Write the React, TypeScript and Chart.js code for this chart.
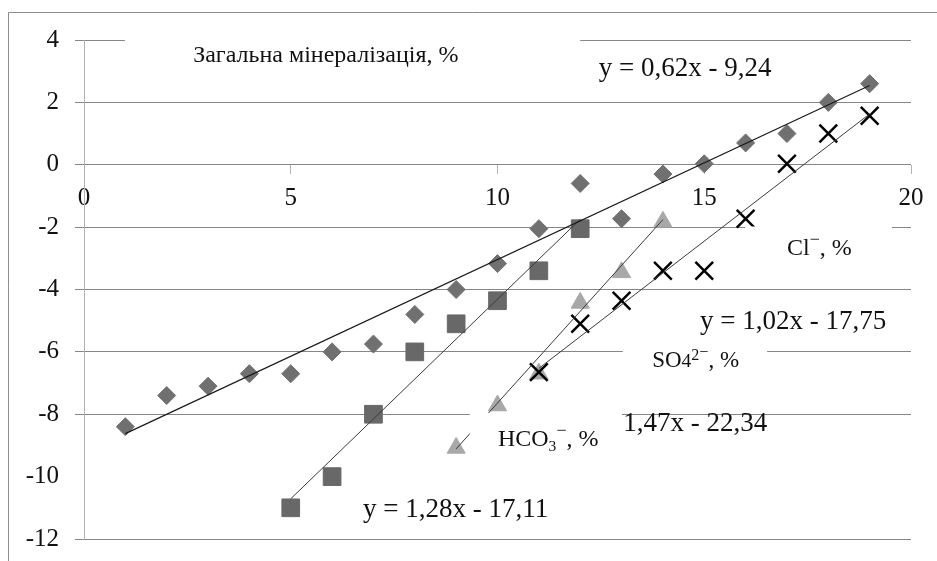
import React, { useEffect, useRef } from 'react';
import { Chart, registerables } from 'chart.js';

Chart.register(...registerables);

// ---- data ----
const mineralX = [1, 2, 3, 4, 5, 6, 7, 8, 9, 10, 11, 12, 13, 14, 15, 16, 17, 18, 19];
const mineralY = [-8.4, -7.4, -7.1, -6.7, -6.7, -6.0, -5.75, -4.8, -4.0, -3.17, -2.05, -0.6, -1.73, -0.3, 0.03, 0.7, 1.0, 2.0, 2.6];

const squareX = [5, 6, 7, 8, 9, 10, 11, 12];
const squareY = [-11.0, -10.0, -8.0, -6.0, -5.1, -4.36, -3.4, -2.05];

const triangleX = [9, 10, 11, 12, 13, 14];
const triangleY = [-9.08, -7.72, -6.7, -4.43, -3.45, -1.83];

const crossX = [11, 12, 13, 14, 15, 16, 17, 18, 19];
const crossY = [-6.65, -5.1, -4.36, -3.4, -3.4, -1.73, 0.03, 1.0, 1.57];

// trend line equations shown on the chart
const trendSlopes = [0.62, 1.28, 1.47, 1.02];
const trendIntercepts = [-9.24, -17.11, -22.34, -17.75];

const xTicks = { min: 0, max: 20, step: 5 };
const yTicks = { min: -12, max: 4, step: 2 };

// ---- annotations (data coordinates) ----
type Part = { t: string; scale?: number; rise?: number };
const textLabels: { x: number; y: number; size: number; parts: Part[] }[] = [
  { x: 2.64, y: 3.29, size: 24, parts: [{ t: 'Загальна мінералізація, %' }] },
  { x: 12.45, y: 2.83, size: 27, parts: [{ t: 'y = 0,62x - 9,24' }] },
  { x: 17.0, y: -2.89, size: 24, parts: [{ t: 'Cl' }, { t: '−', scale: 0.75, rise: -0.42 }, { t: ', %' }] },
  { x: 14.9, y: -5.27, size: 27, parts: [{ t: 'y = 1,02x - 17,75' }] },
  { x: 13.74, y: -6.47, size: 23, parts: [{ t: 'SO' }, { t: '4', scale: 0.85 }, { t: '2', scale: 0.7, rise: -0.3 }, { t: '−', scale: 0.7, rise: -0.42 }, { t: ', %' }] },
  { x: 13.04, y: -8.55, size: 27, parts: [{ t: '1,47x - 22,34' }] },
  { x: 10.01, y: -9.03, size: 24, parts: [{ t: 'HCO' }, { t: '3', scale: 0.65, rise: 0.18 }, { t: '−', scale: 0.75, rise: -0.42 }, { t: ', %' }] },
  { x: 6.75, y: -11.3, size: 27, parts: [{ t: 'y = 1,28x - 17,11' }] },
];

// white label boxes that hide grid lines: [x0, x1, yTop, yBottom]
const maskBoxes: [number, number, number, number][] = [
  [0.99, 12.0, 4.32, 3.68],
  [15.99, 19.54, -1.98, -3.12],
  [13.03, 16.52, -5.71, -6.64],
  [9.33, 13.01, -7.96, -9.79],
];

const FONT = '"Liberation Serif", "Times New Roman", serif';

function pts(xs: number[], ys: number[]) {
  return xs.map((x, i) => ({ x, y: ys[i] }));
}

function trend(i: number, xs: number[]) {
  const x0 = Math.min(...xs);
  const x1 = Math.max(...xs);
  return [
    { x: x0, y: trendSlopes[i] * x0 + trendIntercepts[i] },
    { x: x1, y: trendSlopes[i] * x1 + trendIntercepts[i] },
  ];
}

const annotationPlugin = {
  id: 'annotations',
  beforeDraw(chart: any) {
    const ctx = chart.ctx;
    ctx.save();
    ctx.strokeStyle = '#8c8c8c';
    ctx.lineWidth = 1;
    ctx.beginPath();
    ctx.moveTo(8.5, chart.height);
    ctx.lineTo(8.5, 12.5);
    ctx.lineTo(chart.width, 12.5);
    ctx.stroke();
    ctx.restore();
  },
  afterDatasetsDraw(chart: any) {
    const { ctx } = chart;
    const xs = chart.scales.x;
    const ys = chart.scales.y;
    ctx.save();
    ctx.fillStyle = '#ffffff';
    for (const [x0, x1, y0, y1] of maskBoxes) {
      const px0 = xs.getPixelForValue(x0);
      const px1 = xs.getPixelForValue(x1);
      const py0 = ys.getPixelForValue(y0);
      const py1 = ys.getPixelForValue(y1);
      ctx.fillRect(px0, py0, px1 - px0, py1 - py0);
    }
    ctx.fillStyle = '#111111';
    ctx.textAlign = 'left';
    ctx.textBaseline = 'alphabetic';
    for (const lab of textLabels) {
      let cx = xs.getPixelForValue(lab.x);
      const by = ys.getPixelForValue(lab.y);
      for (const p of lab.parts) {
        const s = lab.size * (p.scale ?? 1);
        ctx.font = `${s}px ${FONT}`;
        ctx.fillText(p.t, cx, by + (p.rise ?? 0) * lab.size);
        cx += ctx.measureText(p.t).width;
      }
    }
    ctx.restore();
  },
};

export default function App() {
  const ref = useRef<HTMLCanvasElement>(null);
  useEffect(() => {
    document.body.style.margin = '0';
    const canvas = ref.current!;
    const chart = new Chart(canvas, {
      type: 'scatter',
      data: {
        datasets: [
          { label: 't0', data: trend(0, mineralX), showLine: true, pointRadius: 0, borderColor: '#1a1a1a', borderWidth: 1.2, order: 0 },
          { label: 't1', data: trend(1, squareX), showLine: true, pointRadius: 0, borderColor: '#3a3a3a', borderWidth: 1, order: 0 },
          { label: 't2', data: trend(2, triangleX), showLine: true, pointRadius: 0, borderColor: '#3a3a3a', borderWidth: 1, order: 0 },
          { label: 't3', data: trend(3, crossX), showLine: true, pointRadius: 0, borderColor: '#3a3a3a', borderWidth: 1, order: 0 },
          { label: 'Загальна мінералізація, %', data: pts(mineralX, mineralY), pointStyle: 'rectRot', pointRadius: 9, backgroundColor: '#707070', borderColor: '#707070', borderWidth: 1, order: 4 },
          { label: 'sq', data: pts(squareX, squareY), pointStyle: 'rect', pointRadius: 12.5, backgroundColor: '#686868', borderColor: '#686868', borderWidth: 1, order: 3 },
          { label: 'tri', data: pts(triangleX, triangleY), pointStyle: 'triangle', pointRadius: 10.5, backgroundColor: '#a8a8a8', borderColor: '#a8a8a8', borderWidth: 1, order: 2 },
          { label: 'x', data: pts(crossX, crossY), pointStyle: 'crossRot', pointRadius: 12.5, backgroundColor: '#000', borderColor: '#000', borderWidth: 2.5, order: 1 },
        ],
      },
      options: {
        responsive: false,
        animation: false,
        devicePixelRatio: 1,
        events: [],
        layout: { padding: { left: 0, top: 40, right: 26, bottom: 22 } },
        plugins: { legend: { display: false }, tooltip: { enabled: false } },
        scales: {
          x: {
            type: 'linear',
            position: { y: 0 },
            min: xTicks.min,
            max: xTicks.max,
            afterFit: (s: any) => { s.height = 0; s.paddingLeft = 0; s.paddingRight = 0; s.paddingTop = 0; s.paddingBottom = 0; },
            ticks: { stepSize: xTicks.step, color: '#111', font: { family: FONT, size: 25 }, padding: 10, maxRotation: 0 },
            grid: { drawOnChartArea: false, drawTicks: true, tickLength: 9, color: '#b3b3b3' },
            border: { display: false },
          },
          y: {
            type: 'linear',
            position: 'left',
            min: yTicks.min,
            max: yTicks.max,
            afterFit: (s: any) => { s.width = 84; s.paddingTop = 0; s.paddingBottom = 0; },
            ticks: { stepSize: yTicks.step, color: '#111', font: { family: FONT, size: 25 }, padding: 16 },
            grid: {
              tickLength: 9,
              color: (c: any) => (c.tick && c.tick.value === -10 ? 'rgba(0,0,0,0)' : '#868686'),
            },
            border: { display: true, color: '#b3b3b3' },
          },
        },
      },
      plugins: [annotationPlugin],
    } as any);
    return () => chart.destroy();
  }, []);
  return (
    <div style={{ width: 937, height: 561 }}>
      <canvas ref={ref} width={937} height={561} style={{ display: 'block' }} />
    </div>
  );
}
